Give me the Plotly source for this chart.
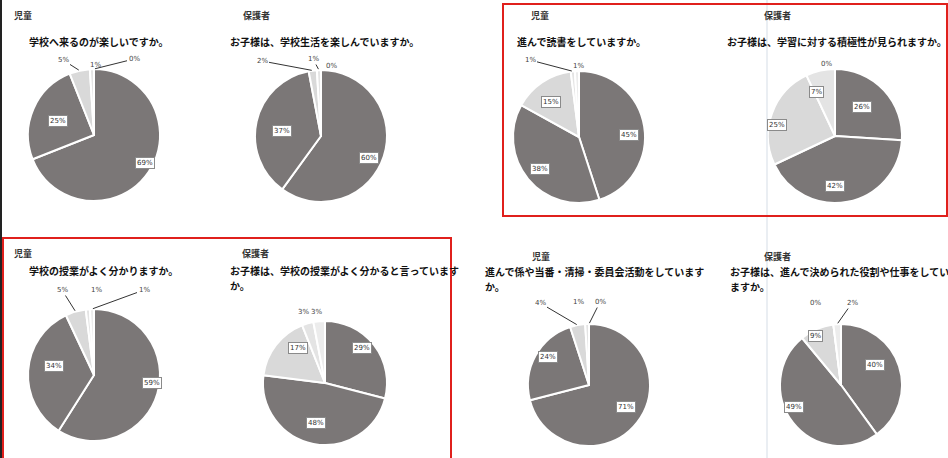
import math
import plotly.graph_objects as go

W, H = 948, 458

# ---------------- data ----------------
groups = ["児童", "保護者", "児童", "保護者", "児童", "保護者", "児童", "保護者"]
questions = [
    ["学校へ来るのが楽しいですか。"],
    ["お子様は、学校生活を楽しんでいますか。"],
    ["進んで読書をしていますか。"],
    ["お子様は、学習に対する積極性が見られますか。"],
    ["学校の授業がよく分かりますか。"],
    ["お子様は、学校の授業がよく分かると言っています", "か。"],
    ["進んで係や当番・清掃・委員会活動をしています", "か。"],
    ["お子様は、進んで決められた役割や仕事をしてい", "ますか。"],
]
pie1 = [69, 25, 5, 1, 0]
pie2 = [60, 37, 2, 1, 0]
pie3 = [45, 38, 15, 1, 1]
pie4 = [26, 42, 25, 7, 0]
pie5 = [59, 34, 5, 1, 1]
pie6 = [29, 48, 17, 3, 3]
pie7 = [71, 24, 4, 1, 0]
pie8 = [40, 49, 9, 0, 2]
pies = [pie1, pie2, pie3, pie4, pie5, pie6, pie7, pie8]

# ---------------- layout config (pixels) ----------------
centers = [(94, 135), (321, 136), (579, 137), (835, 136),
           (94, 375), (325, 383), (589, 385), (841, 385)]
radii = [66, 66, 66, 67, 66, 62, 61, 61]
header_pos = [(12, 15), (241, 15), (529, 15), (762, 15),
              (12, 253), (240, 253), (530, 256), (762, 256)]
question_pos = [(27, 42), (228, 42), (515, 41), (725, 41),
                (27, 270), (228, 270), (483, 271), (728, 271)]
LINE_GAP = 15
# text positions of the small outside labels (pixel), and whether a leader line is drawn
small_pos = [
    [(63, 60, True), (88, 59, False), (134, 59, True)],
    [(262, 61, True), (313, 59, True), (331, 60, False)],
    [(530, 60, True), (578, 60, False)],
    [(834, 58, False)],
    [(62, 290, True), (89, 290, False), (144, 290, True)],
    [(296, 318, False), (316, 318, False)],
    [(540, 303, True), (578, 302, False), (600, 302, True)],
    [(823, 303, False), (852, 303, True)],
]
slice_colors = ["#7b7777", "#7b7777", "#d9d9d9", "#e4e4e4", "#ececec"]
INSIDE_MIN = 7
LABEL_K = 0.76

FONT = "Noto Sans CJK JP"


def px(x):
    return x / W


def py(y):
    return 1 - y / H


fig = go.Figure()
annotations = []

for i, vals in enumerate(pies):
    cx, cy = centers[i]
    r = radii[i]
    fig.add_trace(go.Pie(
        values=vals,
        labels=[f"s{j}" for j in range(len(vals))],
        sort=False,
        direction="clockwise",
        rotation=0,
        textinfo="none",
        hoverinfo="value",
        marker=dict(colors=slice_colors, line=dict(color="white", width=2)),
        domain=dict(x=[px(cx - r), px(cx + r)], y=[py(cy + r), py(cy - r)]),
        showlegend=False,
    ))

    total = sum(vals)
    cum = 0
    small_idx = 0
    for v in vals:
        theta = 2 * math.pi * (cum + v / 2) / total
        cum += v
        sx, sy = math.sin(theta), -math.cos(theta)
        if v >= INSIDE_MIN:
            lx = cx + LABEL_K * r * sx
            ly = cy + LABEL_K * r * sy
            annotations.append(dict(
                x=px(lx), y=py(ly), xref="paper", yref="paper",
                text=f"{v}%", showarrow=False,
                font=dict(family="DejaVu Sans", size=7, color="#333333"),
                bgcolor="white", bordercolor="#8a8a8a", borderwidth=1, borderpad=1,
            ))
        else:
            tx, ty, lead = small_pos[i][small_idx]
            small_idx += 1
            if lead:
                ex = cx + r * sx
                ey = cy + r * sy
                annotations.append(dict(
                    x=px(ex), y=py(ey), xref="paper", yref="paper",
                    ax=tx - ex, ay=ty - ey,
                    text=f"{v}%", showarrow=True, arrowhead=0, arrowwidth=1,
                    arrowcolor="#333333", standoff=1, startstandoff=0,
                    font=dict(family="DejaVu Sans", size=7, color="#444444"),
                ))
            else:
                annotations.append(dict(
                    x=px(tx), y=py(ty), xref="paper", yref="paper",
                    text=f"{v}%", showarrow=False,
                    font=dict(family="DejaVu Sans", size=7, color="#444444"),
                ))

    hx, hy = header_pos[i]
    annotations.append(dict(
        x=px(hx), y=py(hy), xref="paper", yref="paper", xanchor="left", yanchor="middle",
        text=f"<b>{groups[i]}</b>", showarrow=False,
        font=dict(family=FONT, size=9, color="#333333"),
    ))
    qx, qy = question_pos[i]
    for k, line in enumerate(questions[i]):
        annotations.append(dict(
            x=px(qx), y=py(qy + k * LINE_GAP), xref="paper", yref="paper",
            xanchor="left", yanchor="middle",
            text=f"<b>{line}</b>", showarrow=False, align="left",
            font=dict(family=FONT, size=10, color="#111111"),
        ))

shapes = [
    # left black border
    dict(type="line", xref="paper", yref="paper", x0=px(1), x1=px(1), y0=0, y1=1,
         line=dict(color="#222222", width=2)),
    # faint vertical guide
    dict(type="line", xref="paper", yref="paper", x0=px(767), x1=px(767), y0=0, y1=1,
         line=dict(color="#d5dde6", width=1)),
    # red frames
    dict(type="rect", xref="paper", yref="paper", x0=px(503), x1=px(947), y0=py(216), y1=py(4),
         line=dict(color="#e0201c", width=2)),
    dict(type="rect", xref="paper", yref="paper", x0=px(3), x1=px(451), y0=py(459), y1=py(238),
         line=dict(color="#e0201c", width=2)),
]

fig.update_layout(
    width=W, height=H,
    margin=dict(l=0, r=0, t=0, b=0),
    paper_bgcolor="white",
    plot_bgcolor="white",
    annotations=annotations,
    shapes=shapes,
)

fig.write_html("out.html")
